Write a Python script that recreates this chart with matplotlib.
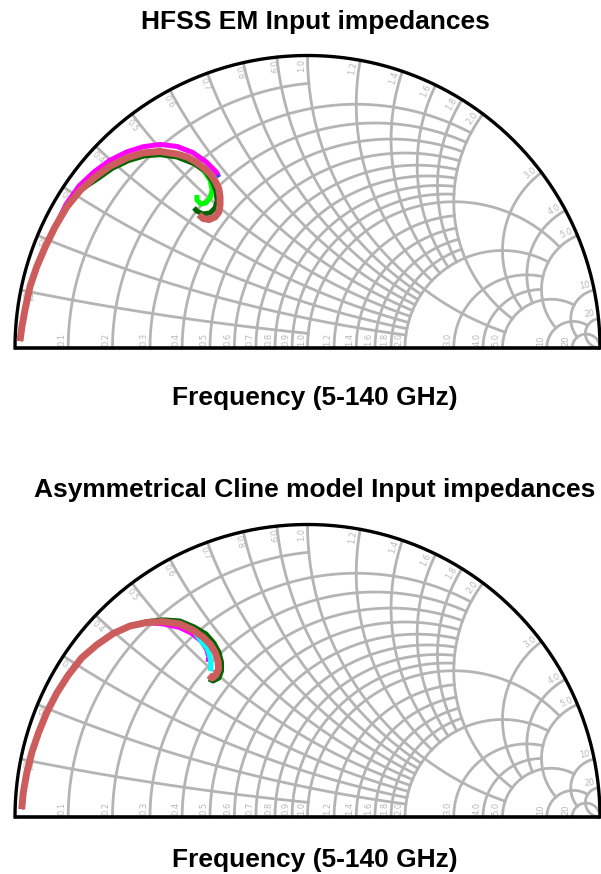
import numpy as np
import matplotlib.pyplot as plt

# ==========================
# Smith chart grid (value of r / x circle, and how far it is drawn)
# ==========================
grid_values = [0.1, 0.2, 0.3, 0.4, 0.5, 0.6, 0.7, 0.8, 0.9, 1.0,
               1.2, 1.4, 1.6, 1.8, 2.0, 3.0, 4.0, 5.0, 10, 20]
grid_limits = [1, 2, 2, 2, 2, 2, 2, 2, 2, 5,
               2, 2, 2, 2, 5, 5, 5, 10, 20, np.inf]
grid_labels = ['0.1', '0.2', '0.3', '0.4', '0.5', '0.6', '0.7', '0.8', '0.9', '1.0',
               '1.2', '1.4', '1.6', '1.8', '2.0', '3.0', '4.0', '5.0', '10', '20']

# ==========================
# Reflection coefficient traces (real, imag), 5-140 GHz, read off the chart
# ==========================
# HFSS EM
hfss_red_re = [-0.983, -0.976, -0.966, -0.949, -0.926, -0.897, -0.863, -0.823, -0.776, -0.726, -0.674, -0.617,
               -0.562, -0.504, -0.446, -0.412, -0.381, -0.354, -0.333, -0.316, -0.303, -0.299, -0.299, -0.303,
               -0.316, -0.337, -0.357, -0.371]
hfss_red_im = [0.024, 0.075, 0.130, 0.209, 0.277, 0.345, 0.414, 0.482, 0.540, 0.585, 0.622, 0.650,
               0.667, 0.672, 0.663, 0.653, 0.636, 0.615, 0.595, 0.571, 0.544, 0.516, 0.489, 0.465,
               0.448, 0.439, 0.443, 0.456]
hfss_magenta_re = [-0.983, -0.976, -0.966, -0.949, -0.926, -0.897, -0.863, -0.826, -0.782, -0.730, -0.677, -0.619,
                   -0.562, -0.504, -0.446, -0.392, -0.346, -0.313, -0.306]
hfss_magenta_im = [0.024, 0.075, 0.130, 0.209, 0.277, 0.345, 0.414, 0.490, 0.553, 0.602, 0.641, 0.670,
                   0.688, 0.696, 0.689, 0.668, 0.636, 0.603, 0.592]
hfss_blue_re = [-0.446, -0.392, -0.346, -0.313, -0.302]
hfss_blue_im = [0.689, 0.668, 0.636, 0.603, 0.584]
hfss_green_re = [-0.983, -0.976, -0.966, -0.949, -0.926, -0.897, -0.863, -0.823, -0.776, -0.726, -0.674, -0.617,
                 -0.562, -0.504, -0.446, -0.395, -0.357, -0.333, -0.326, -0.333, -0.347, -0.364, -0.378, -0.378]
hfss_green_im = [0.024, 0.075, 0.130, 0.209, 0.277, 0.345, 0.414, 0.482, 0.540, 0.585, 0.622, 0.650,
                 0.667, 0.672, 0.663, 0.636, 0.609, 0.574, 0.540, 0.513, 0.496, 0.492, 0.506, 0.523]
hfss_dkgreen_re = [-0.983, -0.976, -0.966, -0.949, -0.926, -0.897, -0.863, -0.823, -0.776, -0.717, -0.666, -0.611,
                   -0.557, -0.504, -0.446, -0.385, -0.347, -0.326, -0.313, -0.309, -0.316, -0.333, -0.357, -0.378,
                   -0.388]
hfss_dkgreen_im = [0.024, 0.075, 0.130, 0.209, 0.277, 0.345, 0.414, 0.482, 0.540, 0.579, 0.615, 0.641,
                   0.657, 0.661, 0.653, 0.629, 0.602, 0.571, 0.537, 0.503, 0.479, 0.462, 0.458, 0.468,
                   0.479]

# Asymmetrical Cline model
cline_red_re = [-0.977, -0.972, -0.960, -0.943, -0.920, -0.892, -0.857, -0.818, -0.772, -0.721, -0.665, -0.607,
                -0.549, -0.494, -0.436, -0.391, -0.357, -0.333, -0.316, -0.306, -0.304, -0.313, -0.326, -0.337]
cline_red_im = [0.027, 0.082, 0.150, 0.219, 0.287, 0.356, 0.424, 0.485, 0.544, 0.588, 0.627, 0.653,
                0.665, 0.668, 0.660, 0.639, 0.615, 0.591, 0.564, 0.533, 0.506, 0.485, 0.475, 0.485]
cline_dkgreen_re = [-0.977, -0.972, -0.960, -0.943, -0.920, -0.892, -0.857, -0.818, -0.772, -0.721, -0.665, -0.607,
                    -0.549, -0.494, -0.436, -0.388, -0.347, -0.320, -0.303, -0.294, -0.294, -0.303, -0.323, -0.337]
cline_dkgreen_im = [0.027, 0.082, 0.150, 0.219, 0.287, 0.356, 0.424, 0.485, 0.544, 0.588, 0.627, 0.653,
                    0.668, 0.674, 0.670, 0.650, 0.626, 0.595, 0.564, 0.530, 0.499, 0.475, 0.465, 0.472]
cline_magenta_re = [-0.977, -0.972, -0.960, -0.943, -0.920, -0.892, -0.857, -0.818, -0.772, -0.721, -0.665, -0.607,
                    -0.549, -0.494, -0.437, -0.395, -0.362, -0.343, -0.337, -0.340]
cline_magenta_im = [0.027, 0.082, 0.150, 0.219, 0.287, 0.356, 0.424, 0.485, 0.544, 0.588, 0.627, 0.653,
                    0.665, 0.660, 0.648, 0.628, 0.600, 0.572, 0.550, 0.530]
cline_blue_re = [-0.437, -0.395, -0.362, -0.345, -0.340]
cline_blue_im = [0.648, 0.628, 0.600, 0.572, 0.552]
cline_cyan_re = [-0.977, -0.972, -0.960, -0.943, -0.920, -0.892, -0.857, -0.818, -0.772, -0.721, -0.665, -0.607,
                 -0.549, -0.494, -0.436, -0.391, -0.365, -0.342, -0.333, -0.330, -0.333]
cline_cyan_im = [0.027, 0.082, 0.150, 0.219, 0.287, 0.356, 0.424, 0.485, 0.544, 0.588, 0.627, 0.653,
                 0.665, 0.668, 0.660, 0.639, 0.603, 0.575, 0.547, 0.520, 0.499]

GRID = '#b4b4b4'
LABEL = '#b8b8b8'


def gamma(z):
    return (z - 1) / (z + 1)


def draw_smith(ax):
    for v, lim, lab in zip(grid_values, grid_limits, grid_labels):
        # constant resistance circle, 0 <= x <= lim
        c, rad = v / (1 + v), 1 / (1 + v)
        if np.isinf(lim):
            a1 = 0.0
        else:
            g = gamma(v + 1j * lim)
            a1 = np.arctan2(g.imag, g.real - c)
        t = np.linspace(np.pi, a1, 300)
        ax.plot(c + rad * np.cos(t), rad * np.sin(t), color=GRID, lw=2.0, zorder=1)

        # constant reactance arc, 0 <= r <= lim
        rad = 1 / v
        g0 = gamma(1j * v)
        a0 = np.arctan2(g0.imag - rad, g0.real - 1) % (2 * np.pi)
        if np.isinf(lim):
            a1 = 1.5 * np.pi
        else:
            g1 = gamma(lim + 1j * v)
            a1 = np.arctan2(g1.imag - rad, g1.real - 1) % (2 * np.pi)
        t = np.linspace(a0, a1, 300)
        ax.plot(1 + rad * np.cos(t), rad + rad * np.sin(t), color=GRID, lw=2.0, zorder=1)

        # r label on the real axis
        x0 = (v - 1) / (v + 1)
        ax.text(x0 - 0.006, 0.006, lab, rotation=90, rotation_mode='anchor',
                ha='left', va='bottom', fontsize=6, color=LABEL, zorder=2)

        # x label on the rim
        th = np.pi - 2 * np.arctan(v) + 0.006
        px, py = 0.99 * np.cos(th), 0.99 * np.sin(th)
        if th <= np.pi / 2 + 0.01:
            ax.text(px, py, lab, rotation=np.degrees(th), rotation_mode='anchor',
                    ha='right', va='bottom', fontsize=6, color=LABEL, zorder=2)
        else:
            ax.text(px, py, lab, rotation=np.degrees(th) - 180, rotation_mode='anchor',
                    ha='left', va='top', fontsize=6, color=LABEL, zorder=2)

    t = np.linspace(0, np.pi, 400)
    ax.plot(np.cos(t), np.sin(t), color='black', lw=2.4, zorder=3)
    ax.plot([-1, 1], [0, 0], color='black', lw=2.6, zorder=3, solid_capstyle='butt')

    ax.set_xlim(-1.04, 1.04)
    ax.set_ylim(-0.04, 1.04)
    ax.axis('off')


fig = plt.figure(figsize=(6.01, 8.74), dpi=100)

# axes placed so that unit radius = 292.5 px, centre at (307.5, 348) and (307.5, 817)
S = 292.5
for k, cy in enumerate([348, 817]):
    left = (307.5 - 1.04 * S) / 601
    bottom = 1 - (cy + 0.04 * S) / 874
    ax = fig.add_axes([left, bottom, 2.08 * S / 601, 1.08 * S / 874])
    draw_smith(ax)
    if k == 0:
        series = [(hfss_blue_re, hfss_blue_im, '#4040ff', 3.2),
                  (hfss_magenta_re, hfss_magenta_im, '#ff00ff', 3.6),
                  (hfss_green_re, hfss_green_im, '#00ff00', 3.6),
                  (hfss_dkgreen_re, hfss_dkgreen_im, '#006400', 3.6),
                  (hfss_red_re, hfss_red_im, '#cd5c5c', 5.0)]
    else:
        series = [(cline_blue_re, cline_blue_im, '#8040ff', 3.2),
                  (cline_magenta_re, cline_magenta_im, '#ff00ff', 3.6),
                  (cline_cyan_re, cline_cyan_im, '#00ffff', 3.6),
                  (cline_dkgreen_re, cline_dkgreen_im, '#006400', 3.6),
                  (cline_red_re, cline_red_im, '#cd5c5c', 5.0)]
    for re, im, col, lw in series:
        ax.plot(re, im, color=col, lw=lw, solid_capstyle='butt', solid_joinstyle='round', zorder=4)

title_kw = dict(ha='center', va='baseline', fontsize=19, fontweight='bold',
                family=['Liberation Sans', 'DejaVu Sans'])
fig.text(315 / 601, 1 - 29.5 / 874, 'HFSS EM Input impedances', **title_kw)
fig.text(315 / 601, 1 - 404.5 / 874, 'Frequency (5-140 GHz)', **title_kw)
fig.text(315 / 601, 1 - 497.5 / 874, 'Asymmetrical Cline model Input impedances', **title_kw)
fig.text(315 / 601, 1 - 867.5 / 874, 'Frequency (5-140 GHz)', **title_kw)

fig.savefig('out.png', dpi=100)
